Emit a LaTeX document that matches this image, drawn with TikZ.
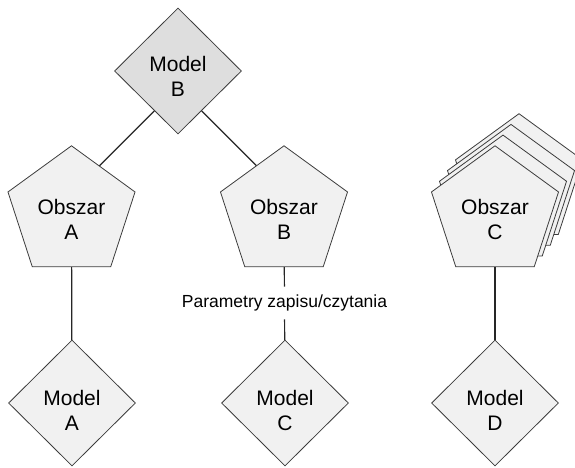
\documentclass[tikz,border=0pt]{standalone}
\usepackage{fontspec}
\setmainfont{Liberation Sans}
\usetikzlibrary{shapes.geometric,calc,backgrounds}
\definecolor{lightfill}{RGB}{241,241,241}
\definecolor{darkfill}{RGB}{222,222,222}
\definecolor{edgecol}{RGB}{60,60,60}
\tikzset{
  pent/.style={regular polygon, regular polygon sides=5, minimum size=133.6pt, inner sep=0pt, draw=edgecol, line width=0.8pt, fill=lightfill},
  dia/.style={diamond, aspect=1, minimum width=127pt, minimum height=126pt, inner sep=0pt, draw=edgecol, line width=0.8pt, fill=lightfill},
  txt/.style={align=center, font=\fontsize{21}{25}\selectfont, inner sep=0pt},
  lbl/.style={font=\fontsize{17.5}{20}\selectfont, fill=white, inner xsep=2pt, inner ysep=8pt},
  conn/.style={draw=black!85, line width=1.2pt}
}
\begin{document}
\begin{tikzpicture}[x=1pt,y=-1pt]
\useasboundingbox (0,0) rectangle (575,467);
% Model B
\node[dia, fill=darkfill] (mb) at (178,71) {};
\node[txt] (tmb) at ($(mb)+(0,5)$) {Model\\B};
% Obszar A, B
\node[pent] (oa) at (71.5,212.6) {};
\node[txt] (toa) at ($(oa)+(0,7)$) {Obszar\\A};
\node[pent] (ob) at (284,212.6) {};
\node[txt] (tob) at ($(ob)+(0,7)$) {Obszar\\B};
% Obszar C stack
\node[pent] (oc3) at (519,180.5) {};
\node[pent] (oc2) at (511,191.2) {};
\node[pent] (oc1) at (503,201.9) {};
\node[pent] (oc) at (495,212.6) {};
\node[txt] (toc) at ($(oc)+(0,7)$) {Obszar\\C};
% Models A, C, D
\node[dia] (ma) at (72,403) {};
\node[txt] (tma) at ($(ma)+(0,7)$) {Model\\A};
\node[dia] (mc) at (285,403) {};
\node[txt] (tmc) at ($(mc)+(0,7)$) {Model\\C};
\node[dia] (md) at (495,403) {};
\node[txt] (tmd) at ($(md)+(0,7)$) {Model\\D};
% label
\node[lbl] (par) at (284.5,303) {Parametry zapisu/czytania};
% connectors
\coordinate (p1) at ($(mb.south)!0.37!(mb.west)$);
\coordinate (q1) at ($(p1)+(-80,80)$);
\coordinate (p2) at ($(mb.south)!0.37!(mb.east)$);
\coordinate (q2) at ($(p2)+(80,80)$);
\begin{pgfonlayer}{background}
\draw[conn] (p1) -- (q1);
\draw[conn] (p2) -- (q2);
\draw[conn] (oa) -- (ma);
\draw[conn] (ob) -- (par);
\draw[conn] (par) -- (mc);
\draw[conn] (oc) -- (md);
\end{pgfonlayer}
\end{tikzpicture}
\end{document}
